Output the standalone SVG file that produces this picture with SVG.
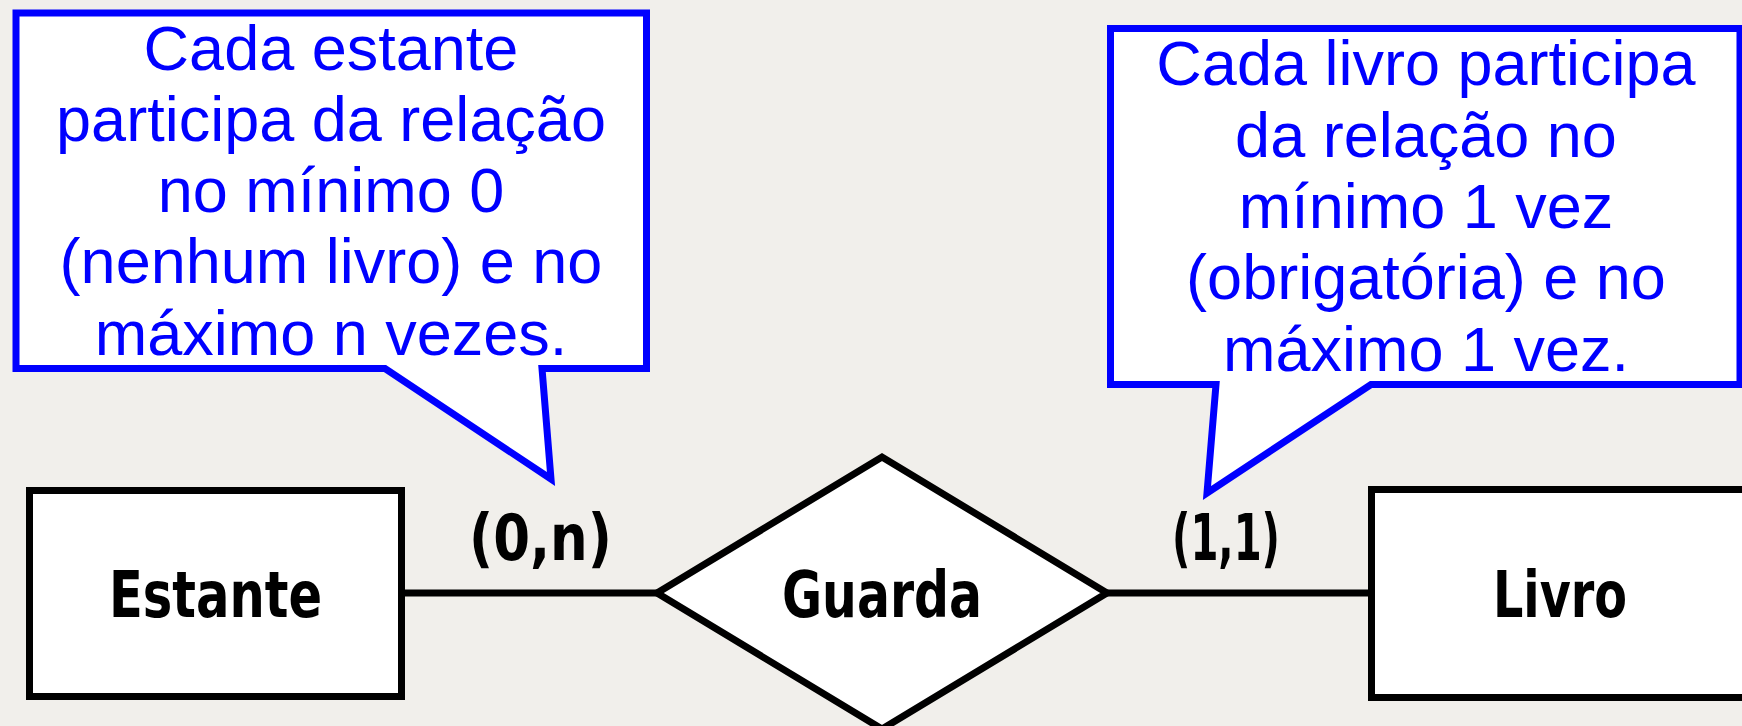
<svg xmlns="http://www.w3.org/2000/svg" width="1742" height="726" viewBox="0 0 1742 726">
<style>
.bg{fill:#f1efeb}
.callout{fill:#ffffff;stroke:#0000ff;stroke-width:7;stroke-linejoin:miter}
.ctext{font-family:"Liberation Sans",Arial,sans-serif;font-size:63px;fill:#0000ff;text-anchor:middle}
.shape{fill:#ffffff;stroke:#000000;stroke-width:7;stroke-linejoin:miter}
.conn{stroke:#000000;stroke-width:7;fill:none}
.label{font-family:"DejaVu Sans Condensed","DejaVu Sans",sans-serif;font-stretch:condensed;font-weight:bold;font-size:64px;fill:#000000}
</style>
<rect class="bg" x="0" y="0" width="1742" height="726"/>
<g id="callout-estante">
<path class="callout" d="M16,13 H646.5 V368.5 H542 L551,479 L385,368.5 H16 Z"/>
<text class="ctext" x="331" y="70">Cada estante</text>
<text class="ctext" x="331" y="141">participa da relação</text>
<text class="ctext" x="331" y="212">no mínimo 0</text>
<text class="ctext" x="331" y="283">(nenhum livro) e no</text>
<text class="ctext" x="331" y="355">máximo n vezes.</text>
</g>
<g id="callout-livro">
<path class="callout" d="M1110.5,28.5 H1740 V384.5 H1371 L1207,493 L1216,384.5 H1110.5 Z"/>
<text class="ctext" x="1426" y="85">Cada livro participa</text>
<text class="ctext" x="1426" y="157">da relação no</text>
<text class="ctext" x="1426" y="228">mínimo 1 vez</text>
<text class="ctext" x="1426" y="299">(obrigatória) e no</text>
<text class="ctext" x="1426" y="371">máximo 1 vez.</text>
</g>
<g id="connectors">
<line class="conn" x1="405" y1="593" x2="657" y2="593"/>
<line class="conn" x1="1107" y1="593" x2="1369" y2="593"/>
<text class="label" x="469" y="560" textLength="143" lengthAdjust="spacingAndGlyphs">(0,n)</text>
<text class="label" x="1172" y="560" textLength="108" lengthAdjust="spacingAndGlyphs">(1,1)</text>
</g>
<g id="estante">
<rect class="shape" x="29.5" y="490.5" width="372" height="206"/>
<text class="label" x="109" y="617" textLength="213" lengthAdjust="spacingAndGlyphs">Estante</text>
</g>
<g id="guarda">
<polygon class="shape" points="657,593 882,457 1107,593 882,729"/>
<text class="label" x="782" y="617" textLength="200" lengthAdjust="spacingAndGlyphs">Guarda</text>
</g>
<g id="livro">
<rect class="shape" x="1371.5" y="489.5" width="390" height="208"/>
<text class="label" x="1493" y="617" textLength="134" lengthAdjust="spacingAndGlyphs">Livro</text>
</g>
</svg>
